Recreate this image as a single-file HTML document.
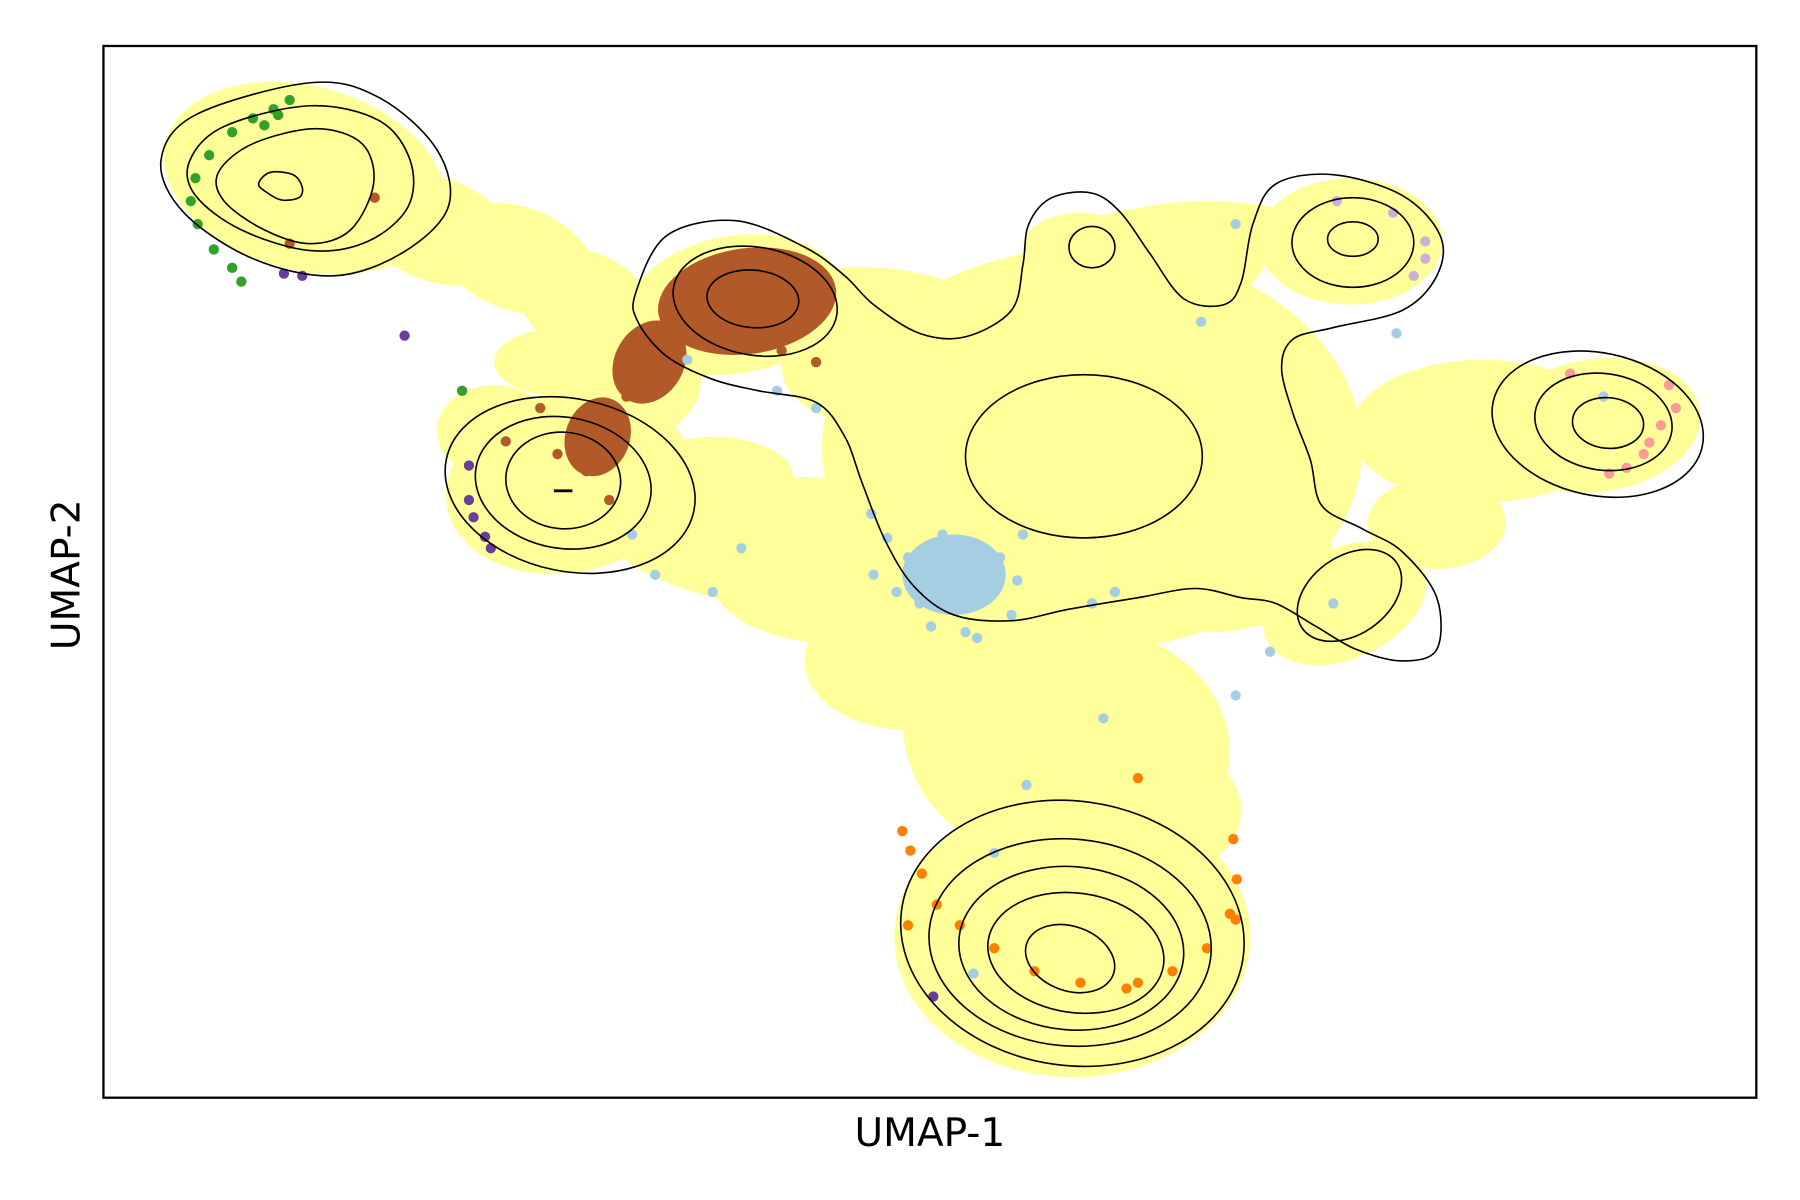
<!DOCTYPE html>
<html><head><meta charset="utf-8"><style>
html,body{margin:0;padding:0;background:#fff;}
svg{display:block;font-family:"DejaVu Sans","Liberation Sans",sans-serif;}
</style></head><body>
<svg id="chart" width="1800" height="1200" viewBox="0 0 1566 1044" xmlns="http://www.w3.org/2000/svg">
<g id="plot"></g>
<rect x="90" y="40" width="1438" height="915" fill="none" stroke="#000" stroke-width="2"/>
<text x="809" y="997" font-size="34" text-anchor="middle">UMAP-1</text>
<text x="0" y="0" font-size="34" text-anchor="middle" transform="translate(69,500) rotate(-90)">UMAP-2</text>
</svg>
<script>
// data in UMAP units: x = 0..1438, y = 0..915 (y up)
const xDomain = [0, 1438];
const yDomain = [0, 915];
// yellow density blobs [cx, cy, rx, ry, rot]
const yellowBlobs = [
 [175,800,125,80,-15],[290,755,70,45,-20],[360,730,70,45,-20],[420,690,60,45,-25],
 [550,690,95,60,10],[450,625,70,55,0],[405,535,108,78,12],[340,580,50,40,0],
 [860,565,235,175,0],[690,660,120,60,-10],[740,500,100,80,0],[1085,745,80,55,0],
 [850,740,50,30,0],[920,730,90,45,0],[1080,430,75,48,25],[960,470,110,65,0],
 [1200,580,115,62,0],[1300,585,90,58,8],[800,330,105,115,0],[843,140,155,122,0],
 [610,500,90,40,0],[530,540,70,35,0],[1160,500,60,40,0],
 [640,450,110,55,0],[560,470,120,40,-10],[850,300,130,110,0],[880,250,110,70,0],
 [670,635,80,50,0],[960,750,100,30,0],[400,640,60,30,0],[700,380,90,60,0]
];
// colored cell clusters [cx, cy, rx, ry, rot]
const brownBlobs = [[560,693,78,46,8],[475,640,30,38,-30],[430,575,28,35,-20]];
const blueBlobs = [[740,455,45,35,0]];
// individual scattered cells [x, y]
const blueDots = [[508,642],[586,615],[620,600],[668,508],[682,487],[760,435],[800,490],[795,450],[760,400],[955,675],[985,760],[803,272],[775,213],[757,108],[860,430],[1125,665],[1070,430],[880,440],[555,478],[530,440],[480,455],[460,490],[1305,610],[870,330],[1015,388],[985,350],[700,470],[710,430],[690,440],[780,470],[720,410],[750,405],[670,455],[730,490],[790,420]];
const brownDots = [[236,783],[162,743],[350,571],[395,560],[620,640],[590,650],[380,600],[455,610],[445,590],[465,660],[420,545],[440,520]];
const greenDots = [[162,868],[148,860],[130,852],[112,840],[92,820],[80,800],[76,780],[82,760],[96,738],[112,722],[120,710],[312,615],[152,855],[140,846]];
const orangeDots = [[695,232],[702,215],[712,195],[725,168],[745,150],[775,130],[810,110],[850,100],[890,95],[930,110],[960,130],[980,160],[986,190],[983,225],[985,155],[900,100],[700,150],[900,278]];
const purpleDots = [[157,717],[173,715],[262,663],[337,478],[318,520],[318,550],[322,505],[332,488],[722,88]];
const pinkDots = [[1368,600],[1362,620],[1355,585],[1340,560],[1325,548],[1310,543],[1345,570],[1276,630]];
const lavenderDots = [[1122,770],[1150,745],[1150,730],[1140,715],[1073,780]];
// contour levels as ellipses [cx, cy, rx, ry, rot]
const contourEllipses = [
 [567,693,72,47,-10],[565,695,40,25,-5],
 [860,740,20,18,0],[1087,744,53,39,0],[1087,747,22,15,0],
 [853,558,103,71,0],[1084,437,50,34,35],
 [406,533,110,75,-12],[400,535,77,57,-10],[400,537,50,42,-5],
 [1300,586,93,62,-12],[1305,588,60,42,-8],[1309,587,31,22,-5],
 [843,143,150,115,-8],[841,135,123,90,-5],[842,130,98,71,-5],[846,126,77,52,-8],[841,121,40,28,-20]
];
// free-form contour paths [x, y] lists
const contourTopLeftOuter = [[50,815],[80,855],[180,883],[240,870],[290,825],[300,775],[260,735],[200,715],[130,730],[70,770]];
const contourTopLeft2 = [[75,815],[105,845],[180,863],[240,850],[267,815],[265,775],[230,745],[180,737],[120,755],[80,785]];
const contourTopLeft3 = [[100,805],[130,830],[185,843],[225,830],[235,795],[215,755],[180,743],[140,755],[105,780]];
const contourTopLeftInner = [[135,795],[145,805],[165,803],[173,792],[170,783],[155,781],[143,787]];
const contourMain = [[463,700],[490,750],[550,763],[610,740],[645,715],[670,690],[710,665],[750,662],[790,685],[800,725],[805,760],[825,783],[860,787],[885,770],[910,735],[940,695],[975,690],[990,710],[1000,760],[1020,795],[1070,803],[1130,785],[1163,750],[1160,715],[1130,685],[1070,670],[1035,660],[1025,635],[1035,595],[1050,555],[1060,515],[1095,495],[1130,475],[1160,435],[1160,390],[1130,380],[1090,390],[1055,410],[1020,430],[990,435],[950,443],[900,435],[840,425],[790,415],[740,420],[705,445],[680,485],[660,535],[645,575],[620,605],[570,615],[530,625],[490,645],[465,675]];
const dashMark = [[392,528],[408,528]];

const X0=90, X1=1528, Y0=955, Y1=40;
function xs(v){return X0+(v-xDomain[0])/(xDomain[1]-xDomain[0])*(X1-X0);}
function ys(v){return Y0+(v-yDomain[0])/(yDomain[1]-yDomain[0])*(Y1-Y0);}
function sx(r){return r*(X1-X0)/(xDomain[1]-xDomain[0]);}
function sy(r){return r*(Y0-Y1)/(yDomain[1]-yDomain[0]);}
const NS="http://www.w3.org/2000/svg";
const plot=document.getElementById('plot');
function mk(tag,attrs){const e=document.createElementNS(NS,tag);for(const k in attrs)e.setAttribute(k,attrs[k]);plot.appendChild(e);return e;}
function ell(b,fill,stroke,name){
 const e=mk('ellipse',{cx:xs(b[0]),cy:ys(b[1]),rx:sx(b[2]),ry:sy(b[3]),transform:`rotate(${-b[4]} ${xs(b[0])} ${ys(b[1])})`,fill:fill,stroke:stroke,'stroke-width':1.4});
 
 
}
function dots(arr,color,name){
 arr.forEach(p=>{const e=mk('circle',{cx:xs(p[0]),cy:ys(p[1]),r:4.5,fill:color});
 
 });
}
function closedPath(pts,name){
 const P=pts.map(p=>[xs(p[0]),ys(p[1])]);const n=P.length;let d=`M${P[0][0]},${P[0][1]}`;
 for(let i=0;i<n;i++){const p0=P[(i-1+n)%n],p1=P[i],p2=P[(i+1)%n],p3=P[(i+2)%n];
  d+=` C${p1[0]+(p2[0]-p0[0])/6},${p1[1]+(p2[1]-p0[1])/6} ${p2[0]-(p3[0]-p1[0])/6},${p2[1]-(p3[1]-p1[1])/6} ${p2[0]},${p2[1]}`;}
 const e=mk('path',{d:d+'Z',fill:'none',stroke:'#000','stroke-width':1.4});
 
 
}
yellowBlobs.forEach(b=>ell(b,'#ffff99','none','yellow-cluster'));
dots(greenDots,'#33a02c','green-cell');
dots(orangeDots,'#ff7f00','orange-cell');
dots(purpleDots,'#6a3d9a','purple-cell');
dots(pinkDots,'#fb9a99','pink-cell');
dots(lavenderDots,'#cab2d6','lavender-cell');
brownBlobs.forEach(b=>ell(b,'#b15928','none','brown-cluster'));
dots(brownDots,'#b15928','brown-cell');
blueBlobs.forEach(b=>ell(b,'#a6cee3','none','blue-cluster'));
dots(blueDots,'#a6cee3','blue-cell');
contourEllipses.forEach(b=>ell(b,'none','#000','density-contour'));
closedPath(contourTopLeftOuter,'density-contour');
closedPath(contourTopLeft2,'density-contour');
closedPath(contourTopLeft3,'density-contour');
closedPath(contourTopLeftInner,'density-contour');
closedPath(contourMain,'density-contour-main');
const dm=mk('line',{x1:xs(dashMark[0][0]),y1:ys(dashMark[0][1]),x2:xs(dashMark[1][0]),y2:ys(dashMark[1][1]),stroke:'#000','stroke-width':2.5});


</script>
</body></html>
